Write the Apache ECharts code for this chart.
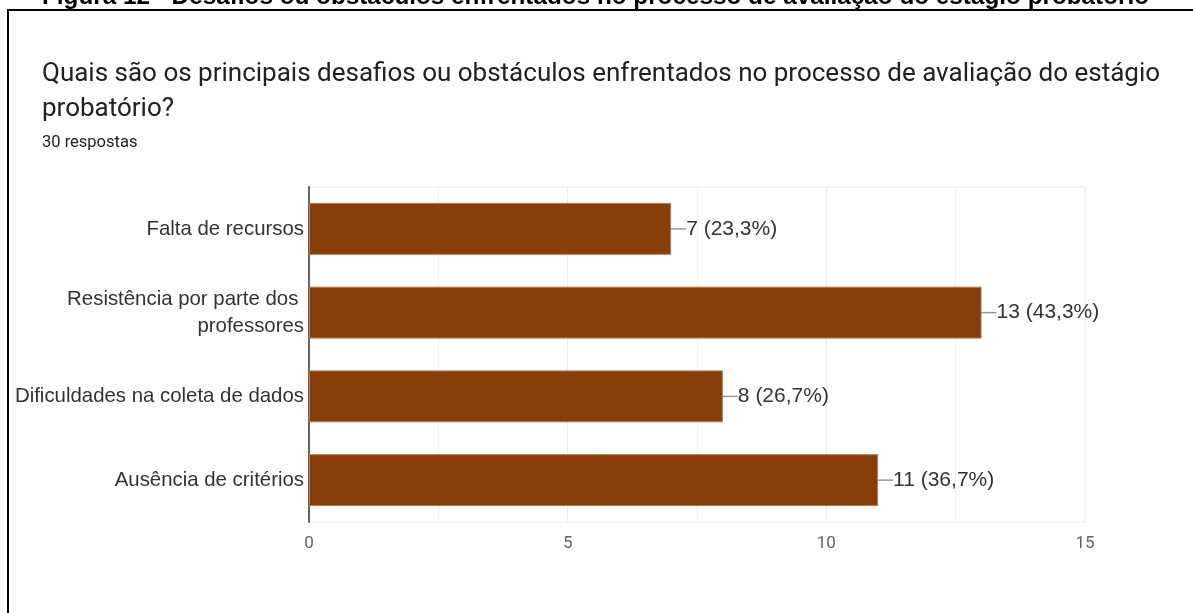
<!DOCTYPE html>
<html>
<head>
<meta charset="utf-8">
<script src="https://cdn.jsdelivr.net/npm/echarts@6/dist/echarts.min.js"></script>
<style>
html,body{margin:0;padding:0;background:#fff;}
#chart{width:1193px;height:613px;}
</style>
</head>
<body>
<div id="chart"></div>
<script>
const figureCaption = "Figura 12 - Desafios ou obstáculos enfrentados no processo de avaliação do estágio probatório";
const titleLines = ["Quais são os principais desafios ou obstáculos enfrentados no processo de avaliação do estágio", "probatório?"];
const subtitle = "30 respostas";
const categories = ["Falta de recursos", "Resistência por parte dos professores", "Dificuldades na coleta de dados", "Ausência de critérios"];
const counts = [7, 13, 8, 11];
const percents = ["23,3%", "43,3%", "26,7%", "36,7%"];
const xTicks = [0, 5, 10, 15];

const chart = echarts.init(document.getElementById('chart'));
chart.setOption({
  animation: false,
  backgroundColor: '#fff',
  graphic: [
    { type: 'text', left: 42, top: -15, style: { text: figureCaption, font: 'bold 24.3px "Liberation Sans", Arial', fill: '#000' } },
    { type: 'rect', shape: { x: 8, y: 10, width: 1300, height: 800 }, style: { fill: 'none', stroke: '#000', lineWidth: 2 } },
    { type: 'text', left: 42, top: 61, style: { text: titleLines[0], font: '26px Roboto', fill: '#202124' } },
    { type: 'text', left: 42, top: 96, style: { text: titleLines[1], font: '26px Roboto', fill: '#202124' } },
    { type: 'text', left: 42, top: 134, style: { text: subtitle, font: '16.5px Roboto', fill: '#202124' } }
  ],
  grid: { left: 309, right: 108, top: 187, bottom: 91, show: true, borderColor: '#ececec', borderWidth: 1 },
  xAxis: {
    type: 'value', min: 0, max: 15, interval: 5,
    axisLine: { show: false }, axisTick: { show: false },
    splitLine: { show: true, lineStyle: { color: '#ececec' } },
    minorTick: { show: false, splitNumber: 2 },
    minorSplitLine: { show: true, lineStyle: { color: '#f2f2f2' } },
    axisLabel: { color: '#5f6368', fontFamily: 'Roboto', fontSize: 17, margin: 13,
      formatter: v => xTicks.includes(v) ? String(v) : '' }
  },
  yAxis: {
    type: 'category', data: categories, inverse: true,
    axisLine: { show: true, lineStyle: { color: '#666', width: 2 } },
    axisTick: { show: false },
    axisLabel: { color: '#333', fontFamily: '"Liberation Sans", Arial', fontSize: 20.4, margin: 5,
      width: 298, overflow: 'break', lineHeight: 27, align: 'right' }
  },
  series: [{
    type: 'bar', data: counts, barWidth: '62%',
    itemStyle: { color: '#873e08', borderColor: '#b57a50', borderWidth: 1 },
    label: { show: true, position: 'right', distance: 0,
      color: '#333', fontFamily: '"Liberation Sans", Arial', fontSize: 21,
      formatter: p => p.value + ' (' + percents[p.dataIndex] + ')' },
    labelLayout: { dx: 15 },
    labelLine: { show: true, lineStyle: { color: '#999', width: 1.5 } }
  }]
});
</script>
</body>
</html>
